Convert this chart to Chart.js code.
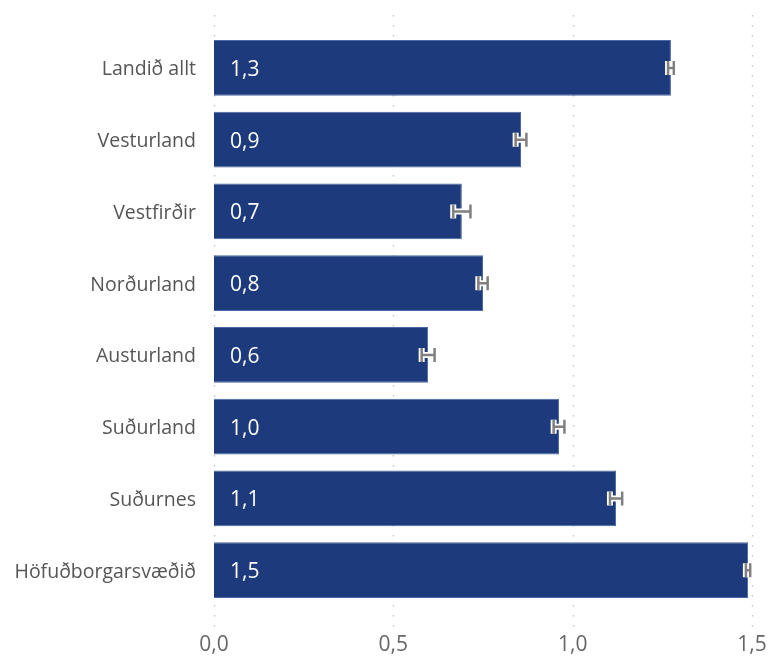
<!DOCTYPE html>
<html>
<head>
<meta charset="utf-8">
<script src="https://cdn.jsdelivr.net/npm/chart.js@4/dist/chart.umd.min.js"></script>
<style>
html,body{margin:0;padding:0;background:#fff;}
#wrap{width:768px;height:661px;}
</style>
</head>
<body>
<div id="wrap"><canvas id="c" width="768" height="661"></canvas></div>
<script>
const categories = ["Landið allt","Vesturland","Vestfirðir","Norðurland","Austurland","Suðurland","Suðurnes","Höfuðborgarsvæðið"];
const values     = [1.274, 0.856, 0.691, 0.750, 0.597, 0.962, 1.121, 1.489];
const errLow     = [1.266, 0.841, 0.667, 0.737, 0.579, 0.947, 1.104, 1.483];
const errHigh    = [1.282, 0.871, 0.715, 0.763, 0.615, 0.977, 1.138, 1.495];
const xTicks     = [0, 0.5, 1.0, 1.5];

const FONT = "'Open Sans', 'Noto Sans', sans-serif";
const fmt = v => v.toFixed(1).replace('.', ',');

const extras = {
  id: 'extras',
  beforeDatasetsDraw(chart) {
    const {ctx, chartArea, scales} = chart;
    ctx.save();
    ctx.strokeStyle = '#c8c8c8';
    ctx.lineWidth = 1.5;
    ctx.setLineDash([1.5, 8.5]);
    xTicks.forEach(t => {
      const x = Math.round(scales.x.getPixelForValue(t)) + 0.5;
      ctx.beginPath();
      ctx.moveTo(x, chartArea.top - 17);
      ctx.lineTo(x, chartArea.bottom + 22);
      ctx.stroke();
    });
    ctx.restore();
  },
  afterDatasetsDraw(chart) {
    const {ctx, scales} = chart;
    const meta = chart.getDatasetMeta(0);
    ctx.save();
    meta.data.forEach((bar, i) => {
      const y = bar.y;
      ctx.fillStyle = '#ffffff';
      ctx.font = "21px " + FONT;
      ctx.textAlign = 'left';
      ctx.textBaseline = 'middle';
      ctx.fillText(fmt(values[i]), scales.x.getPixelForValue(0) + 16, y + 2);
      const x1 = scales.x.getPixelForValue(errLow[i]);
      const x2 = scales.x.getPixelForValue(errHigh[i]);
      const h = 7;
      const drawEB = (lw, col) => {
        ctx.strokeStyle = col;
        ctx.lineWidth = lw;
        ctx.lineCap = 'butt';
        ctx.beginPath();
        ctx.moveTo(x1, y); ctx.lineTo(x2, y);
        ctx.moveTo(x1, y - h); ctx.lineTo(x1, y + h);
        ctx.moveTo(x2, y - h); ctx.lineTo(x2, y + h);
        ctx.stroke();
      };
      drawEB(6, '#ffffff');
      drawEB(2.5, '#808080');
    });
    ctx.restore();
  }
};

new Chart(document.getElementById('c'), {
  type: 'bar',
  data: {
    labels: categories,
    datasets: [{
      data: values,
      backgroundColor: '#1d3b7c',
      borderColor: '#4a68a3',
      borderWidth: 1,
      categoryPercentage: 0.78,
      barPercentage: 1.0
    }]
  },
  options: {
    indexAxis: 'y',
    responsive: false,
    animation: false,
    layout: { padding: { top: 32, right: 16, left: 0, bottom: 0 } },
    plugins: { legend: { display: false }, tooltip: { enabled: false } },
    scales: {
      x: {
        min: 0, max: 1.5,
        border: { display: false },
        grid: { display: false, drawTicks: false },
        ticks: {
          stepSize: 0.5,
          padding: 26,
          color: '#666666',
          font: { family: FONT, size: 21 },
          callback: v => fmt(v)
        },
        afterFit(s) { s.height = 55; s.paddingRight = 0; s.paddingLeft = 0; }
      },
      y: {
        border: { display: false },
        grid: { display: false, drawTicks: false },
        ticks: {
          padding: 18,
          labelOffset: 2,
          color: '#555555',
          font: { family: FONT, size: 19.5 }
        },
        afterFit(s) { s.width = 214; }
      }
    }
  },
  plugins: [extras]
});
</script>
</body>
</html>
